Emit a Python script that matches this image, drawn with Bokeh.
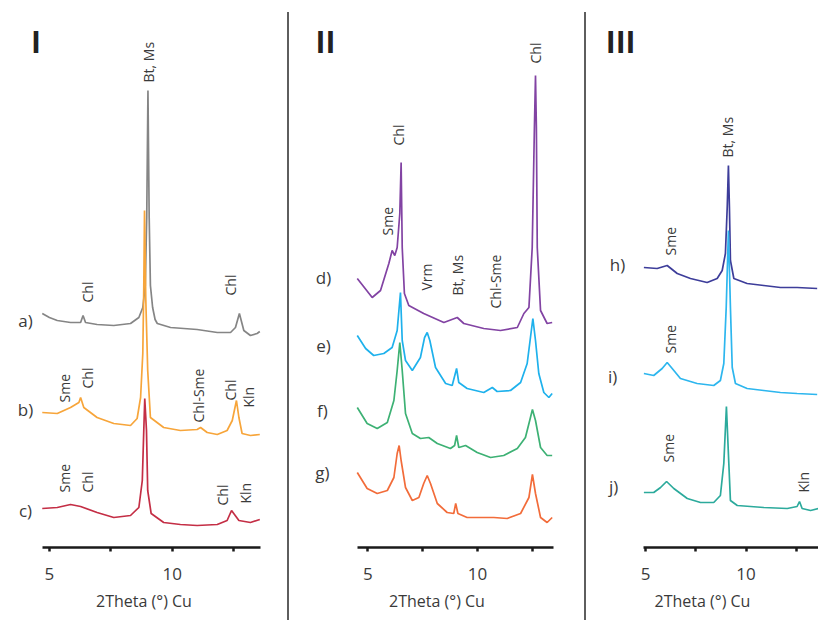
from bokeh.plotting import figure
from bokeh.models import Label, FixedTicker, Range1d, Spacer
from bokeh.layouts import row
from bokeh.embed import file_html
from bokeh.resources import INLINE

# ---------------- data (2Theta in degrees, stacked intensity in arbitrary units) -------------
# Panel I
a_x = [4.71, 5.00, 5.32, 5.86, 6.27, 6.37, 6.47, 6.94, 7.62, 8.30, 8.64, 8.80, 8.90, 8.96, 9.01,
       9.06, 9.11, 9.20, 9.30, 9.39, 9.93, 11.01, 11.83, 12.37, 12.57, 12.73, 12.91, 13.18, 13.45, 13.56]
a_y = [234, 230, 227, 225, 225, 232, 225, 223, 222, 224, 230, 240, 262, 330, 457,
       330, 262, 240, 228, 224, 220, 218, 215, 215, 220, 234, 217, 212, 214, 216]

b_x = [4.71, 5.32, 5.86, 6.20, 6.27, 6.40, 6.94, 7.62, 8.30, 8.57, 8.71, 8.80, 8.84, 8.87, 8.92,
       9.00, 9.11, 9.65, 10.33, 11.01, 11.15, 11.42, 11.83, 12.23, 12.44, 12.61, 12.71, 12.84, 13.18, 13.56]
b_y = [135, 134, 140, 145, 150, 140, 130, 124, 122, 129, 150, 194, 260, 337, 250,
       177, 130, 120, 117, 118, 120, 115, 113, 117, 127, 147, 130, 114, 112, 113]

c_x = [4.71, 5.32, 5.86, 6.27, 6.94, 7.62, 8.30, 8.64, 8.78, 8.84, 8.88, 8.95, 9.00, 9.14, 9.65,
       10.33, 11.01, 11.83, 12.23, 12.41, 12.53, 12.71, 13.18, 13.56]
c_y = [39, 40, 43, 41, 35, 30, 32, 40, 67, 117, 149, 117, 57, 34, 25,
       23, 22, 23, 27, 37, 33, 27, 25, 28]

# Panel II
d_x = [4.52, 5.20, 5.58, 5.96, 6.11, 6.23, 6.34, 6.46, 6.52, 6.57, 6.67, 6.87, 7.55, 8.47, 9.08,
       9.38, 10.29, 11.05, 11.82, 12.12, 12.35, 12.50, 12.60, 12.65, 12.69, 12.73, 12.88, 13.18, 13.41]
d_y = [269, 250, 257, 284, 297, 292, 300, 334, 385, 300, 254, 242, 234, 225, 230,
       224, 219, 217, 220, 234, 240, 300, 420, 472, 420, 300, 237, 224, 225]

e_x = [4.52, 4.90, 5.27, 5.73, 6.11, 6.34, 6.49, 6.57, 6.72, 7.03, 7.40, 7.59, 7.71, 7.83, 8.09,
       8.55, 8.85, 9.05, 9.15, 9.53, 10.29, 10.68, 10.90, 11.51, 11.97, 12.27, 12.42, 12.53, 12.65,
       12.80, 13.03, 13.26, 13.41]
e_y = [212, 199, 192, 194, 200, 217, 255, 207, 187, 177, 190, 210, 215, 207, 180,
       164, 162, 179, 165, 159, 155, 160, 156, 157, 165, 184, 210, 229, 207,
       174, 155, 150, 154]

f_x = [4.52, 4.97, 5.43, 5.89, 6.19, 6.34, 6.46, 6.57, 6.72, 7.03, 7.40, 7.78, 8.17, 8.77, 8.96,
       9.05, 9.15, 9.46, 9.99, 10.60, 11.20, 11.82, 12.19, 12.42, 12.51, 12.65, 12.88, 13.18, 13.41]
f_y = [140, 124, 119, 125, 147, 177, 205, 177, 134, 114, 109, 110, 104, 99, 102,
       112, 100, 102, 95, 90, 92, 99, 110, 130, 138, 127, 100, 92, 92]

g_x = [4.52, 4.97, 5.43, 5.89, 6.19, 6.34, 6.43, 6.52, 6.72, 7.03, 7.33, 7.55, 7.71, 7.86, 8.17,
       8.62, 8.92, 9.01, 9.11, 9.53, 10.29, 10.75, 11.36, 11.97, 12.35, 12.51, 12.65, 12.88, 13.18, 13.41]
g_y = [75, 59, 54, 57, 70, 94, 102, 87, 60, 47, 50, 64, 72, 64, 44,
       35, 34, 44, 34, 30, 30, 30, 29, 34, 50, 73, 54, 30, 25, 30]

# Panel III
h_x = [4.91, 5.57, 6.07, 6.57, 7.23, 8.06, 8.56, 8.81, 8.97, 9.06, 9.12, 9.17, 9.22, 9.39, 10.05,
       10.88, 11.71, 12.54, 13.54]
h_y = [280, 279, 282, 274, 269, 265, 269, 277, 294, 340, 382, 340, 287, 269, 264,
       262, 260, 260, 259]

i_x = [4.91, 5.40, 5.82, 6.07, 6.32, 6.73, 7.56, 8.39, 8.72, 8.89, 9.01, 9.12, 9.22, 9.31, 9.47,
       10.05, 10.88, 11.71, 12.54, 13.54]
i_y = [174, 172, 179, 185, 179, 169, 164, 162, 167, 184, 240, 317, 240, 180, 164,
       159, 157, 155, 154, 153]

j_x = [4.91, 5.40, 5.74, 6.04, 6.40, 7.07, 7.73, 8.39, 8.72, 8.89, 9.02, 9.14, 9.22, 9.56, 10.88,
       12.05, 12.54, 12.66, 12.79, 13.21, 13.62]
j_y = [55, 55, 60, 66, 59, 49, 45, 45, 52, 84, 141, 84, 47, 42, 40,
       39, 41, 46, 39, 37, 39]

# phase annotations: (2Theta, y of text start, label)
ann_I = [(9.03, 465, "Bt, Ms"), (6.55, 245, "Chl"), (12.37, 252, "Chl"),
         (5.61, 145, "Sme"), (6.57, 159, "Chl"), (11.07, 125, "Chl-Sme"), (12.37, 147, "Chl"),
         (13.10, 140, "Kln"),
         (5.61, 55, "Sme"), (6.55, 55, "Chl"), (12.04, 42, "Chl"), (12.98, 44, "Kln")]
ann_II = [(5.91, 312, "Sme"), (6.41, 402, "Chl"), (7.68, 257, "Vrm"), (9.08, 252, "Bt, Ms"),
          (10.83, 239, "Chl-Sme"), (12.65, 484, "Chl")]
ann_III = [(9.06, 390, "Bt, Ms"), (6.24, 292, "Sme"), (6.24, 194, "Sme"), (6.14, 85, "Sme"),
           (12.86, 55, "Kln")]

rows_I = [(4.03, 227, "a)"), (4.03, 138, "b)"), (4.03, 37, "c)")]
rows_II = [(2.98, 270, "d)"), (2.98, 202, "e)"), (2.93, 137, "f)"), (2.93, 75, "g)")]
rows_III = [(3.60, 283, "h)"), (3.35, 171, "i)"), (3.40, 61, "j)")]

FONT = "Open Sans"
TXT = "#3a3a3a"
H = 620
AXIS_Y = 547


def panel(width, xr, bounds):
    p = figure(width=width, height=H, x_range=Range1d(*xr), y_range=Range1d(0, AXIS_Y),
               output_backend="svg", toolbar_location=None, y_axis_location=None,
               min_border_left=0, min_border_right=0, min_border_top=0,
               min_border_bottom=H - AXIS_Y)
    p.grid.visible = False
    p.outline_line_color = None
    ax = p.xaxis[0]
    ax.bounds = bounds
    ax.ticker = FixedTicker(ticks=[5, 10], minor_ticks=[7.5, 12.5])
    ax.axis_line_width = 2.5
    ax.axis_line_color = "#1a1a1a"
    ax.major_tick_in = 0
    ax.major_tick_out = 4
    ax.major_tick_line_width = 2.5
    ax.major_tick_line_color = "#1a1a1a"
    ax.minor_tick_in = 0
    ax.minor_tick_out = 4
    ax.minor_tick_line_width = 2.5
    ax.minor_tick_line_color = "#1a1a1a"
    ax.major_label_text_font = FONT
    ax.major_label_text_font_size = "17px"
    ax.major_label_text_color = TXT
    ax.major_label_standoff = 16
    ax.axis_label = "2Theta (°) Cu"
    ax.axis_label_text_font = FONT
    ax.axis_label_text_font_size = "16px"
    ax.axis_label_text_font_style = "normal"
    ax.axis_label_text_color = TXT
    ax.axis_label_standoff = 7
    return p


def add_text(p, anns, rows, roman, roman_x):
    for x, y, t in anns:
        p.add_layout(Label(x=x, y=y, text=t, angle=90, angle_units="deg", text_align="left",
                           text_baseline="middle", text_font=FONT, text_font_size="14px",
                           text_color=TXT))
    for x, y, t in rows:
        p.add_layout(Label(x=x, y=y, text=t, text_align="center", text_baseline="middle",
                           text_font=FONT, text_font_size="17px", text_color=TXT))
    p.add_layout(Label(x=roman_x, y=506, text=roman, text_align="center", text_baseline="middle",
                       text_font=FONT, text_font_size="30px", text_font_style="bold",
                       text_color="#222222"))


LW = 1.7
p1 = panel(287, (3.011, 14.687), (4.72, 13.59))
p1.line(a_x, a_y, line_color="#858585", line_width=LW)
p1.line(b_x, b_y, line_color="#F7A53A", line_width=LW)
p1.line(c_x, c_y, line_color="#C42E45", line_width=LW)
add_text(p1, ann_I, rows_I, "I", 4.45)

p2 = panel(295, (1.428, 14.885), (4.53, 13.47))
p2.line(d_x, d_y, line_color="#8243A3", line_width=LW)
p2.line(e_x, e_y, line_color="#1EB1EC", line_width=LW)
p2.line(f_x, f_y, line_color="#3DB174", line_width=LW)
p2.line(g_x, g_y, line_color="#F26C3A", line_width=LW)
add_text(p2, ann_II, rows_II, "II", 3.07)

p3 = panel(232, (2.052, 13.606), (4.89, 13.61))
p3.line(h_x, h_y, line_color="#3D3D9A", line_width=LW)
p3.line(i_x, i_y, line_color="#2DB6EE", line_width=LW)
p3.line(j_x, j_y, line_color="#2CAA9C", line_width=LW)
add_text(p3, ann_III, rows_III, "III", 3.75)

sep1 = Spacer(width=2, height=H - 12, margin=(12, 0, 0, 0), styles={"background-color": "#5e5e5e"})
sep2 = Spacer(width=2, height=H - 12, margin=(12, 0, 0, 0), styles={"background-color": "#5e5e5e"})

layout = row(p1, sep1, p2, sep2, p3)
open("out.html", "w").write(file_html(layout, INLINE))
